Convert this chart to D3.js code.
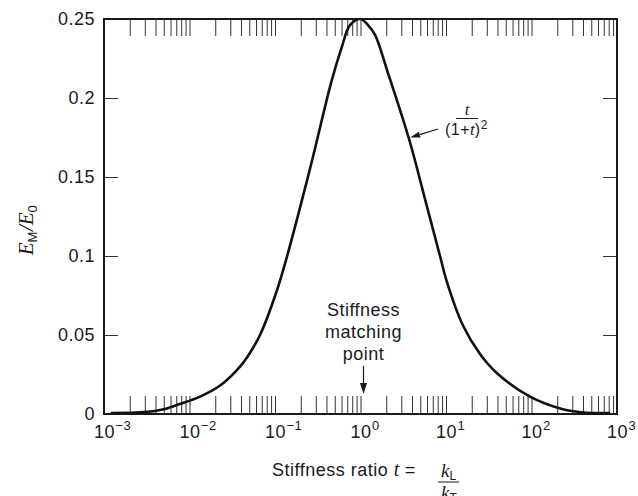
<!DOCTYPE html>
<html lang="en">
<head>
<meta charset="UTF-8" />
<title>Stiffness matching</title>
<script src="https://cdn.jsdelivr.net/npm/d3@7"></script>
<style>
  body { margin: 0; background: #fff; }
  svg text { font-family: "Liberation Sans", Arial, sans-serif; fill: #1a1a1a; letter-spacing: 0.5px; }
  .serif { font-family: "Liberation Serif", "DejaVu Serif", serif; font-style: italic; letter-spacing: 0; }
</style>
</head>
<body>
<svg width="638" height="496"></svg>
<script>
// E_M/E_0 against stiffness ratio t
const tValues = [0.0012, 0.003, 0.005, 0.0077, 0.0133, 0.0228, 0.039, 0.05, 0.0668, 0.105, 0.137, 0.256, 0.46, 0.603,
  0.75, 1, 1.23, 1.48, 2.09, 3.79, 5.68, 8.51, 10.2, 15.8, 25, 39.2, 96, 233, 400, 828]
const energyRatio = [0.0006, 0.0012, 0.003, 0.0063, 0.011, 0.018, 0.03, 0.038, 0.05, 0.078, 0.099, 0.155, 0.211, 0.232,
  0.246, 0.25, 0.246, 0.24, 0.216, 0.172, 0.136, 0.1, 0.084, 0.056, 0.038, 0.026, 0.011, 0.003, 0.001, 0.0006]
const yTickValues = [0, 0.05, 0.1, 0.15, 0.2, 0.25]
const yTickLabels = ['0', '0.05', '0.1', '0.15', '0.2', '0.25']
const decadeExponents = [-3, -2, -1, 0, 1, 2, 3]
const matchingLines = ['Stiffness', 'matching', 'point']

const svg = d3.select('svg')
const x = d3.scaleLog().domain([1e-3, 1e3]).range([104, 617])
const y = d3.scaleLinear().domain([0, 0.25]).range([414, 19])

const ink = '#1a1a1a'

function styleTicks(g) {
  g.select('.domain').remove()
  g.selectAll('.tick line').attr('stroke', '#333').attr('stroke-width', 1)
}

// minor ticks, bottom and top, pointing inward
svg.append('g')
  .attr('transform', `translate(0,${y(0)})`)
  .call(d3.axisBottom(x).tickValues(x.ticks()).tickSize(-18).tickFormat(''))
  .call(styleTicks)
svg.append('g')
  .attr('transform', `translate(0,${y(0.25)})`)
  .call(d3.axisTop(x).tickValues(x.ticks()).tickSize(-17).tickFormat(''))
  .call(styleTicks)

// decade labels 10^n
const decadeAxis = svg.append('g')
  .attr('transform', `translate(0,${y(0)})`)
  .call(d3.axisBottom(x).tickValues(decadeExponents.map(e => Math.pow(10, e))).tickSize(0).tickFormat(''))
decadeAxis.select('.domain').remove()
decadeAxis.selectAll('.tick text').remove()
decadeAxis.selectAll('.tick').each(function (d, i) {
  const g = d3.select(this)
  g.append('text').attr('x', 0).attr('y', 24).attr('text-anchor', 'middle')
    .attr('font-size', 18).text('10')
  const e = decadeExponents[i]
  g.append('text').attr('x', 11).attr('y', 16).attr('text-anchor', 'start').attr('font-size', 13)
    .text(e < 0 ? '\u2212' + Math.abs(e) : String(e))
})

// y axes
svg.append('g')
  .attr('transform', `translate(${x(1e-3)},0)`)
  .call(d3.axisLeft(y).tickValues(yTickValues).tickSize(-14).tickPadding(9).tickFormat((d, i) => yTickLabels[i]))
  .call(styleTicks)
  .attr('font-size', 18)
svg.append('g')
  .attr('transform', `translate(${x(1e3)},0)`)
  .call(d3.axisRight(y).tickValues(yTickValues).tickSize(-14).tickFormat(''))
  .call(styleTicks)

// frame
svg.append('rect')
  .attr('x', x(1e-3)).attr('y', y(0.25))
  .attr('width', x(1e3) - x(1e-3)).attr('height', y(0) - y(0.25))
  .attr('fill', 'none').attr('stroke', ink).attr('stroke-width', 2)

// curve
const points = tValues.map((t, i) => [t, energyRatio[i]])
svg.append('path')
  .datum(points)
  .attr('fill', 'none')
  .attr('stroke', '#111')
  .attr('stroke-width', 2.6)
  .attr('stroke-linejoin', 'round')
  .attr('d', d3.line().x(d => x(d[0])).y(d => Math.min(y(0) - 1, y(d[1]))).curve(d3.curveCatmullRom.alpha(0.5)))

function arrow(x1, y1, x2, y2, headLen, headW) {
  const a = Math.atan2(y2 - y1, x2 - x1)
  const bx = x2 - headLen * Math.cos(a), by = y2 - headLen * Math.sin(a)
  svg.append('line').attr('x1', x1).attr('y1', y1).attr('x2', bx).attr('y2', by)
    .attr('stroke', ink).attr('stroke-width', 1.2)
  const px = -Math.sin(a) * headW / 2, py = Math.cos(a) * headW / 2
  svg.append('path')
    .attr('d', `M${x2},${y2}L${bx + px},${by + py}L${bx - px},${by - py}Z`)
    .attr('fill', ink)
}

// stiffness matching point note
const mx = x(1) + 3
svg.append('g').selectAll('text').data(matchingLines).join('text')
  .attr('x', mx).attr('y', (d, i) => 316 + i * 22)
  .attr('text-anchor', 'middle').attr('font-size', 18)
  .text(d => d)
arrow(x(1) + 3, 366, x(1) + 3, y(0) - 20, 11, 7)

// formula note t/(1+t)^2
const fx = 445
svg.append('text').attr('class', 'serif').attr('x', 467).attr('y', 115)
  .attr('text-anchor', 'middle').attr('font-size', 17).text('t')
svg.append('line').attr('x1', 456).attr('x2', 478).attr('y1', 118.5).attr('y2', 118.5)
  .attr('stroke', ink).attr('stroke-width', 1)
const den = svg.append('text').attr('x', fx).attr('y', 135).attr('font-size', 16)
den.append('tspan').text('(1+')
den.append('tspan').attr('class', 'serif').attr('font-size', 17).text('t')
den.append('tspan').text(')')
den.append('tspan').attr('font-size', 12).attr('dy', -6).text('2')
arrow(438, 129, x(3.8), y(0.175), 10, 6)

// y label E_M / E_0
const yl = svg.append('text')
  .attr('transform', 'translate(33,230) rotate(-90)')
  .attr('text-anchor', 'middle')
yl.append('tspan').attr('class', 'serif').attr('font-size', 21).text('E')
yl.append('tspan').attr('font-size', 13).attr('dy', 4).text('M')
yl.append('tspan').attr('class', 'serif').attr('font-size', 21).attr('dy', -4).text('/E')
yl.append('tspan').attr('font-size', 13).attr('dy', 4).text('0')

// x label
const xl = svg.append('text').attr('x', 272).attr('y', 476).attr('font-size', 18)
xl.append('tspan').text('Stiffness ratio ')
xl.append('tspan').attr('class', 'serif').attr('font-size', 20).text('t')
xl.append('tspan').text(' = ')
const kL = svg.append('text').attr('x', 441).attr('y', 477)
kL.append('tspan').attr('class', 'serif').attr('font-size', 19).text('k')
kL.append('tspan').attr('font-size', 12).attr('dy', 3).text('L')
svg.append('line').attr('x1', 438).attr('x2', 459).attr('y1', 482).attr('y2', 482)
  .attr('stroke', ink).attr('stroke-width', 1)
const kT = svg.append('text').attr('x', 441).attr('y', 499)
kT.append('tspan').attr('class', 'serif').attr('font-size', 19).text('k')
kT.append('tspan').attr('font-size', 12).attr('dy', 3).text('T')
</script>
</body>
</html>
